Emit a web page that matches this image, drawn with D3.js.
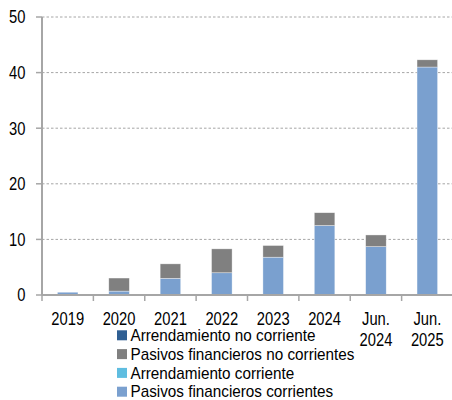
<!DOCTYPE html>
<html><head><meta charset="utf-8">
<script src="https://cdn.jsdelivr.net/npm/d3@7"></script>
<style>body{margin:0;background:#fff}svg{display:block}text{font-family:"Liberation Sans",Arial,sans-serif;fill:#000}</style>
</head><body><svg id="c" width="452" height="400"></svg>
<script>
const categories = [["2019"],["2020"],["2021"],["2022"],["2023"],["2024"],["Jun.","2024"],["Jun.","2025"]];
const pasivosCorrientes   = [0.5, 0.7, 3.0, 4.0, 6.8, 12.5, 8.7, 41.0];
const arrendCorriente     = [0, 0, 0, 0, 0, 0, 0, 0];
const pasivosNoCorrientes = [0, 2.35, 2.6, 4.3, 2.1, 2.3, 2.1, 1.3];
const arrendNoCorriente   = [0, 0, 0, 0, 0, 0, 0, 0];
const yTicks = [0, 10, 20, 30, 40, 50];
const seriesNames = ["Pasivos financieros corrientes","Arrendamiento corriente","Pasivos financieros no corrientes","Arrendamiento no corriente"];
const seriesColors = ["#7aa0cf","#5fbde0","#808080","#2f5f93"];

const keys = categories.map(c => c.join(" "));
const rows = keys.map((k,i) => ({cat:k, s0:pasivosCorrientes[i], s1:arrendCorriente[i], s2:pasivosNoCorrientes[i], s3:arrendNoCorriente[i]}));
const stack = d3.stack().keys(["s0","s1","s2","s3"])(rows);

const svg = d3.select("#c");
const x0 = 42, x1 = 453, yB = 295, yT = 17;
const x = d3.scaleBand().domain(keys).range([x0, x1]).paddingInner(0.6).paddingOuter(0.3);
const y = d3.scaleLinear().domain([0, 50]).range([yB, yT]);
const gap = (x.step() - x.bandwidth())/2;
const axisScaleX = 0.82;

// gridlines
svg.append("g").selectAll("line").data(yTicks.filter(t => t > 0)).join("line")
  .attr("x1", x0).attr("x2", 452).attr("y1", d => y(d)).attr("y2", d => y(d))
  .attr("stroke", "#a6a6a6").attr("stroke-width", 1).attr("stroke-dasharray", "2.5,2");

// bars
svg.append("g").selectAll("g").data(stack).join("g")
  .attr("fill", (d,i) => seriesColors[i])
  .selectAll("rect").data(d => d.filter(p => p[1] - p[0] > 0)).join("rect")
  .attr("x", d => x(d.data.cat)).attr("width", x.bandwidth())
  .attr("y", d => y(d[1])).attr("height", d => y(d[0]) - y(d[1]))
  .attr("stroke", "#ffffff").attr("stroke-width", 0.6).attr("stroke-opacity", 0.6);

// y axis
const ya = svg.append("g");
ya.append("line").attr("x1", x0).attr("x2", x0).attr("y1", yT).attr("y2", yB).attr("stroke", "#a6a6a6").attr("stroke-width", 2);
ya.selectAll("line.t").data(yTicks).join("line").attr("class","t")
  .attr("x1", 36).attr("x2", x0).attr("y1", d => y(d)).attr("y2", d => y(d)).attr("stroke", "#a6a6a6").attr("stroke-width", 1.5);
ya.selectAll("text").data(yTicks).join("text")
  .attr("transform", d => `translate(25.5,${y(d)}) scale(${axisScaleX},1)`)
  .attr("dy", "0.36em").attr("text-anchor", "end")
  .attr("font-size", 18).text(d => d);

// x axis
const xa = svg.append("g");
xa.append("line").attr("x1", x0).attr("x2", 452).attr("y1", yB).attr("y2", yB).attr("stroke", "#a6a6a6").attr("stroke-width", 2);
const bounds = keys.map(k => x(k) - gap).concat([x(keys[keys.length-1]) + x.bandwidth() + gap]);
xa.selectAll("line.t").data(bounds).join("line").attr("class","t")
  .attr("x1", d => d).attr("x2", d => d).attr("y1", yB).attr("y2", yB + 6).attr("stroke", "#a6a6a6").attr("stroke-width", 1.5);
xa.selectAll("text").data(categories).join("text")
  .attr("transform", (d,i) => `translate(${x(keys[i]) + x.bandwidth()/2},325) scale(${axisScaleX},1)`)
  .attr("text-anchor", "middle").attr("font-size", 18)
  .selectAll("tspan").data(d => d).join("tspan")
  .attr("x", 0).attr("dy", (d,i) => i === 0 ? 0 : 21).text(d => d);

// legend
const legOrder = [3,2,1,0];
const lg = svg.append("g");
legOrder.forEach((si, j) => {
  const cy = 335.3 + j*18.8;
  lg.append("rect").attr("x", 117).attr("y", cy - 5).attr("width", 10).attr("height", 10).attr("fill", seriesColors[si]);
  lg.append("text").attr("transform", `translate(130.5,${cy}) scale(0.955,1)`).attr("dy", "0.36em").attr("font-size", 16).text(seriesNames[si]);
});
</script></body></html>
